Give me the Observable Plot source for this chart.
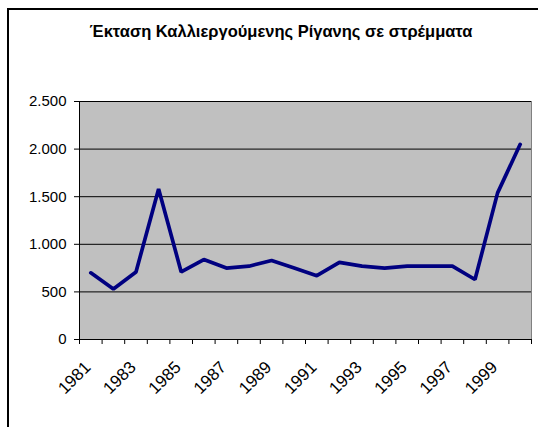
<!DOCTYPE html>
<html>
<head>
<meta charset="utf-8">
<script src="https://cdn.jsdelivr.net/npm/d3@7"></script>
<script src="https://cdn.jsdelivr.net/npm/@observablehq/plot@0.6"></script>
<style>
  html, body { margin: 0; padding: 0; background: #fff; }
  #wrap { position: relative; width: 538px; height: 427px; overflow: hidden; font-family: "Liberation Sans", Arial, sans-serif; }
  #chart { position: absolute; left: 0; top: 0; }
  #title { position: absolute; left: 0; width: 562px; top: 22px; text-align: center; font-weight: bold; font-size: 16.5px; color: #000; }
  #bl { position: absolute; left: 7px; top: 8px; width: 2px; height: 419px; background: #000; z-index: 5; }
  #bt { position: absolute; left: 7px; top: 8px; width: 531px; height: 2px; background: #000; z-index: 5; }
</style>
</head>
<body>
<div id="wrap">
  <div id="chart"></div>
  <div id="title">Έκταση Καλλιεργούμενης Ρίγανης σε στρέμματα</div>
  <div id="bl"></div>
  <div id="bt"></div>
</div>
<script>
const years = [1981,1982,1983,1984,1985,1986,1987,1988,1989,1990,1991,1992,1993,1994,1995,1996,1997,1998,1999,2000];
const area  = [700,530,710,1580,710,840,750,770,830,750,670,810,770,750,770,770,770,630,1540,2050];
const yTicks = [0,500,1000,1500,2000,2500];
const xLabelYears = [1981,1983,1985,1987,1989,1991,1993,1995,1997,1999];

const data = years.map((y, i) => ({year: y, value: area[i]}));
const bounds = years.map(y => y - 0.5).concat([years[years.length - 1] + 0.5]);
const fmt = d => d3.format(",")(d).replace(/,/g, ".");

const chart = Plot.plot({
  width: 538,
  height: 427,
  marginLeft: 79,
  marginRight: 7,
  marginTop: 101,
  marginBottom: 88,
  style: {fontFamily: "'Liberation Sans', Arial, sans-serif", fontSize: "15px", background: "white", color: "#000"},
  x: {type: "linear", domain: [bounds[0], bounds[bounds.length - 1]]},
  y: {domain: [0, 2500]},
  marks: [
    Plot.frame({fill: "#c0c0c0", stroke: "#808080"}),
    Plot.gridY(yTicks.slice(1), {stroke: "#000", strokeOpacity: 1, strokeWidth: 1}),
    Plot.ruleX([bounds[0]], {stroke: "#000"}),
    Plot.ruleY([0], {stroke: "#000"}),
    Plot.axisY({ticks: yTicks, tickFormat: fmt, tickSize: 5, tickPadding: 8, fontSize: 15, label: null, stroke: "#000"}),
    Plot.axisX({ticks: bounds, tickFormat: () => "", tickSize: 5, label: null, stroke: "#000"}),
    Plot.axisX({ticks: xLabelYears, tickFormat: d => String(d), tickSize: 0, tickPadding: 25, dx: -3, tickRotate: -45, fontSize: 17, label: null}),
    Plot.line(data, {x: "year", y: "value", stroke: "#000080", strokeWidth: 3.7, strokeLinejoin: "miter"})
  ]
});
document.getElementById("chart").appendChild(chart);
</script>
</body>
</html>
